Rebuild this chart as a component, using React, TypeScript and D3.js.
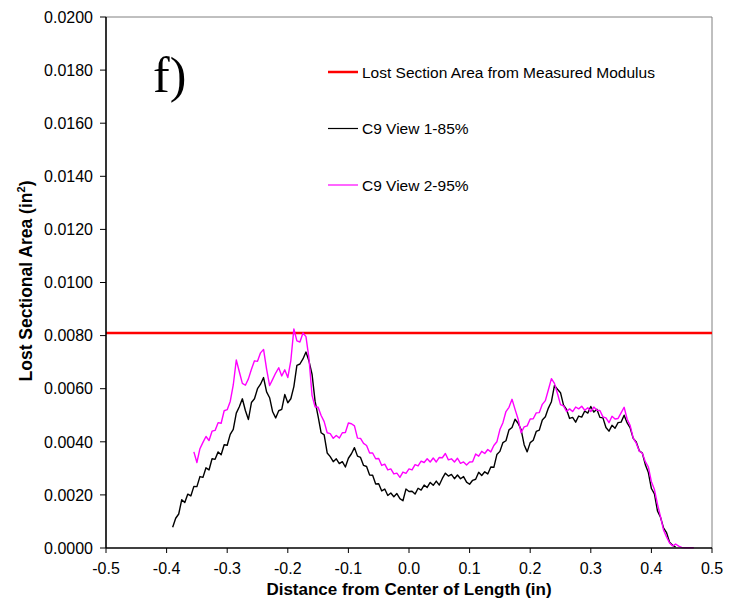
import React from "react";
import * as d3 from "d3";

// Lost sectional area along the specimen, two image-analysis views
const view1: [number, number][] = [
  [-0.390, 0.00078], [-0.385, 0.00112], [-0.380, 0.00128], [-0.375, 0.00182], [-0.370, 0.00171],
  [-0.365, 0.00203], [-0.360, 0.00196], [-0.355, 0.00232], [-0.350, 0.00231], [-0.345, 0.00269],
  [-0.340, 0.00266], [-0.335, 0.00302], [-0.330, 0.00294], [-0.325, 0.00336], [-0.320, 0.00334],
  [-0.315, 0.00362], [-0.310, 0.00351], [-0.305, 0.00389], [-0.300, 0.00387], [-0.295, 0.00428],
  [-0.290, 0.00447], [-0.285, 0.00508], [-0.280, 0.00532], [-0.275, 0.00562], [-0.270, 0.00518],
  [-0.265, 0.00484], [-0.260, 0.00548], [-0.255, 0.00562], [-0.250, 0.00600], [-0.245, 0.00617],
  [-0.240, 0.00642], [-0.235, 0.00588], [-0.230, 0.00566], [-0.225, 0.00513], [-0.220, 0.00490],
  [-0.215, 0.00517], [-0.210, 0.00522], [-0.205, 0.00578], [-0.200, 0.00547], [-0.195, 0.00562],
  [-0.190, 0.00608], [-0.185, 0.00688], [-0.180, 0.00693], [-0.175, 0.00712], [-0.170, 0.00738],
  [-0.165, 0.00704], [-0.160, 0.00655], [-0.155, 0.00553], [-0.150, 0.00496], [-0.145, 0.00434],
  [-0.140, 0.00426], [-0.135, 0.00358], [-0.130, 0.00344], [-0.125, 0.00325], [-0.120, 0.00336],
  [-0.115, 0.00318], [-0.110, 0.00325], [-0.105, 0.00305], [-0.100, 0.00338], [-0.095, 0.00355],
  [-0.090, 0.00378], [-0.085, 0.00346], [-0.080, 0.00341], [-0.075, 0.00311], [-0.070, 0.00307],
  [-0.065, 0.00275], [-0.060, 0.00274], [-0.055, 0.00241], [-0.050, 0.00242], [-0.045, 0.00215],
  [-0.040, 0.00222], [-0.035, 0.00198], [-0.030, 0.00207], [-0.025, 0.00193], [-0.020, 0.00205],
  [-0.015, 0.00186], [-0.010, 0.00178], [-0.005, 0.00222], [0.000, 0.00213], [0.005, 0.00214],
  [0.010, 0.00203], [0.015, 0.00225], [0.020, 0.00218], [0.025, 0.00237], [0.030, 0.00228],
  [0.035, 0.00247], [0.040, 0.00236], [0.045, 0.00252], [0.050, 0.00237], [0.055, 0.00262],
  [0.060, 0.00282], [0.065, 0.00271], [0.070, 0.00277], [0.075, 0.00261], [0.080, 0.00275],
  [0.085, 0.00261], [0.090, 0.00269], [0.095, 0.00248], [0.100, 0.00240], [0.105, 0.00255],
  [0.110, 0.00259], [0.115, 0.00285], [0.120, 0.00273], [0.125, 0.00287], [0.130, 0.00279],
  [0.135, 0.00305], [0.140, 0.00304], [0.145, 0.00352], [0.150, 0.00364], [0.155, 0.00397],
  [0.160, 0.00404], [0.165, 0.00445], [0.170, 0.00454], [0.175, 0.00485], [0.180, 0.00470],
  [0.185, 0.00446], [0.190, 0.00389], [0.195, 0.00362], [0.200, 0.00397], [0.205, 0.00406],
  [0.210, 0.00439], [0.215, 0.00444], [0.220, 0.00482], [0.225, 0.00494], [0.230, 0.00527],
  [0.235, 0.00551], [0.240, 0.00612], [0.245, 0.00598], [0.250, 0.00585], [0.255, 0.00538],
  [0.260, 0.00522], [0.265, 0.00488], [0.270, 0.00492], [0.275, 0.00474], [0.280, 0.00497],
  [0.285, 0.00493], [0.290, 0.00516], [0.295, 0.00508], [0.300, 0.00533], [0.305, 0.00512],
  [0.310, 0.00523], [0.315, 0.00492], [0.320, 0.00490], [0.325, 0.00454], [0.330, 0.00440],
  [0.335, 0.00462], [0.340, 0.00451], [0.345, 0.00472], [0.350, 0.00474], [0.355, 0.00500],
  [0.360, 0.00471], [0.365, 0.00452], [0.370, 0.00413], [0.375, 0.00399], [0.380, 0.00366],
  [0.385, 0.00358], [0.390, 0.00314], [0.395, 0.00284], [0.400, 0.00224], [0.405, 0.00204],
  [0.410, 0.00140], [0.415, 0.00116], [0.420, 0.00076], [0.425, 0.00058], [0.430, 0.00022],
  [0.435, 0.00010], [0.440, 0.00004],
];

const view2: [number, number][] = [
  [-0.355, 0.00362], [-0.350, 0.00322], [-0.345, 0.00374], [-0.340, 0.00398], [-0.335, 0.00420],
  [-0.330, 0.00405], [-0.325, 0.00440], [-0.320, 0.00443], [-0.315, 0.00472], [-0.310, 0.00470],
  [-0.305, 0.00517], [-0.300, 0.00521], [-0.295, 0.00552], [-0.290, 0.00614], [-0.285, 0.00708],
  [-0.280, 0.00664], [-0.275, 0.00620], [-0.270, 0.00613], [-0.265, 0.00637], [-0.260, 0.00673],
  [-0.255, 0.00705], [-0.250, 0.00703], [-0.245, 0.00735], [-0.240, 0.00748], [-0.235, 0.00674],
  [-0.230, 0.00612], [-0.225, 0.00635], [-0.220, 0.00659], [-0.215, 0.00679], [-0.210, 0.00648],
  [-0.205, 0.00671], [-0.200, 0.00642], [-0.195, 0.00706], [-0.190, 0.00825], [-0.185, 0.00780],
  [-0.180, 0.00776], [-0.175, 0.00810], [-0.170, 0.00796], [-0.165, 0.00712], [-0.160, 0.00575],
  [-0.155, 0.00532], [-0.150, 0.00530], [-0.145, 0.00499], [-0.140, 0.00476], [-0.135, 0.00434],
  [-0.130, 0.00431], [-0.125, 0.00413], [-0.120, 0.00424], [-0.115, 0.00414], [-0.110, 0.00434],
  [-0.105, 0.00435], [-0.100, 0.00471], [-0.095, 0.00468], [-0.090, 0.00460], [-0.085, 0.00414],
  [-0.080, 0.00413], [-0.075, 0.00394], [-0.070, 0.00386], [-0.065, 0.00358], [-0.060, 0.00358],
  [-0.055, 0.00336], [-0.050, 0.00337], [-0.045, 0.00311], [-0.040, 0.00316], [-0.035, 0.00294],
  [-0.030, 0.00298], [-0.025, 0.00279], [-0.020, 0.00282], [-0.015, 0.00266], [-0.010, 0.00286],
  [-0.005, 0.00281], [0.000, 0.00298], [0.005, 0.00294], [0.010, 0.00314], [0.015, 0.00309],
  [0.020, 0.00327], [0.025, 0.00322], [0.030, 0.00336], [0.035, 0.00324], [0.040, 0.00339],
  [0.045, 0.00324], [0.050, 0.00341], [0.055, 0.00340], [0.060, 0.00356], [0.065, 0.00332],
  [0.070, 0.00336], [0.075, 0.00324], [0.080, 0.00338], [0.085, 0.00319], [0.090, 0.00324],
  [0.095, 0.00313], [0.100, 0.00324], [0.105, 0.00325], [0.110, 0.00354], [0.115, 0.00346],
  [0.120, 0.00364], [0.125, 0.00356], [0.130, 0.00371], [0.135, 0.00362], [0.140, 0.00386],
  [0.145, 0.00400], [0.150, 0.00446], [0.155, 0.00472], [0.160, 0.00514], [0.165, 0.00530],
  [0.170, 0.00560], [0.175, 0.00522], [0.180, 0.00486], [0.185, 0.00434], [0.190, 0.00456],
  [0.195, 0.00460], [0.200, 0.00486], [0.205, 0.00487], [0.210, 0.00509], [0.215, 0.00510],
  [0.220, 0.00541], [0.225, 0.00555], [0.230, 0.00596], [0.235, 0.00638], [0.240, 0.00620],
  [0.245, 0.00582], [0.250, 0.00540], [0.255, 0.00535], [0.260, 0.00514], [0.265, 0.00524],
  [0.270, 0.00514], [0.275, 0.00531], [0.280, 0.00524], [0.285, 0.00534], [0.290, 0.00519],
  [0.295, 0.00528], [0.300, 0.00514], [0.305, 0.00531], [0.310, 0.00519], [0.315, 0.00518],
  [0.320, 0.00494], [0.325, 0.00490], [0.330, 0.00472], [0.335, 0.00496], [0.340, 0.00486],
  [0.345, 0.00488], [0.350, 0.00509], [0.355, 0.00530], [0.360, 0.00485], [0.365, 0.00461],
  [0.370, 0.00414], [0.375, 0.00395], [0.380, 0.00365], [0.385, 0.00357], [0.390, 0.00325],
  [0.395, 0.00305], [0.400, 0.00250], [0.405, 0.00220], [0.410, 0.00165], [0.415, 0.00118],
  [0.420, 0.00068], [0.425, 0.00042], [0.430, 0.00019], [0.435, 0.00008], [0.440, 0.00015],
  [0.445, 0.00007], [0.450, 0.00002], [0.455, 0.00001], [0.460, 0.00001], [0.465, 0.00001],
  [0.470, 0.00001],
];

// Lost section area derived from the measured modulus (constant reference level)
const modulusLoss = 0.0081;

const xTicks = [-0.5, -0.4, -0.3, -0.2, -0.1, 0, 0.1, 0.2, 0.3, 0.4, 0.5];
const yTicks = [0, 0.002, 0.004, 0.006, 0.008, 0.01, 0.012, 0.014, 0.016, 0.018, 0.02];

const legendItems = [
  { label: "Lost Section Area from Measured Modulus", color: "#ff0000", width: 2.5 },
  { label: "C9 View 1-85%", color: "#000000", width: 1.2 },
  { label: "C9 View 2-95%", color: "#ff00ff", width: 1.2 },
];

const W = 740;
const H = 598;
const left = 106;
const right = 712;
const top = 17;
const bottom = 548;
const FONT = "Arial, 'Liberation Sans', Helvetica, sans-serif";

// plain hyphen for negatives, as in the printed axis
const fmtX = (t: number) => d3.format(".1f")(t).replace("\u2212", "-");
const fmtY = d3.format(".4f");

export default function App() {
  const x = d3.scaleLinear().domain([-0.5, 0.5]).range([left, right]);
  const y = d3.scaleLinear().domain([0, 0.02]).range([bottom, top]);
  const line = d3
    .line<[number, number]>()
    .x((d) => x(d[0]))
    .y((d) => y(d[1]));

  return (
    <svg
      width={W}
      height={H}
      style={{ position: "absolute", left: 0, top: 0, background: "#fff" }}
      fontFamily={FONT}
    >
      <rect x={0} y={0} width={W} height={H} fill="#fff" />

      {/* frame: top and right edges */}
      <line x1={left} y1={top} x2={right} y2={top} stroke="#808080" strokeWidth={1} />
      <line x1={right} y1={top} x2={right} y2={bottom} stroke="#808080" strokeWidth={1} />

      {/* reference level */}
      <line
        x1={x(-0.5)}
        x2={x(0.5)}
        y1={y(modulusLoss)}
        y2={y(modulusLoss)}
        stroke="#ff0000"
        strokeWidth={2.5}
      />

      <path d={line(view1) ?? ""} fill="none" stroke="#000" strokeWidth={1.4} strokeLinejoin="round" />
      <path d={line(view2) ?? ""} fill="none" stroke="#ff00ff" strokeWidth={1.4} strokeLinejoin="round" />

      {/* y axis */}
      <line x1={left} y1={top} x2={left} y2={bottom} stroke="#000" strokeWidth={1.6} />
      {yTicks.map((t) => (
        <g key={`y${t}`}>
          <line x1={left - 6} x2={left} y1={y(t)} y2={y(t)} stroke="#000" strokeWidth={1} />
          <text x={93} y={y(t)} dy="0.36em" textAnchor="end" fontSize={16} fill="#000">
            {fmtY(t)}
          </text>
        </g>
      ))}

      {/* x axis */}
      <line x1={left} y1={bottom} x2={right} y2={bottom} stroke="#000" strokeWidth={1.6} />
      {xTicks.map((t) => (
        <g key={`x${t}`}>
          <line x1={x(t)} x2={x(t)} y1={bottom} y2={bottom + 5} stroke="#000" strokeWidth={1} />
          <text x={x(t)} y={574} textAnchor="middle" fontSize={16} fill="#000">
            {fmtX(t)}
          </text>
        </g>
      ))}

      <text x={409} y={595} textAnchor="middle" fontSize={17} fontWeight="bold" fill="#000">
        Distance from Center of Length (in)
      </text>
      <text
        transform="translate(32,281) rotate(-90)"
        textAnchor="middle"
        fontSize={17.5}
        fontWeight="bold"
        fill="#000"
      >
        Lost Sectional Area (in
        <tspan dy={-7} fontSize={11}>2</tspan>
        <tspan dy={7}>)</tspan>
      </text>

      {/* panel label */}
      <text x={153} y={92} fontFamily="'Liberation Serif', 'Times New Roman', serif" fontSize={50} fill="#000">
        f)
      </text>

      {/* legend */}
      {legendItems.map((it, i) => {
        const ly = 72 + i * 56.5;
        return (
          <g key={it.label}>
            <line x1={328} x2={358} y1={ly} y2={ly} stroke={it.color} strokeWidth={it.width} />
            <text x={362} y={ly} dy="0.36em" fontSize={15.5} fill="#000">
              {it.label}
            </text>
          </g>
        );
      })}
    </svg>
  );
}
